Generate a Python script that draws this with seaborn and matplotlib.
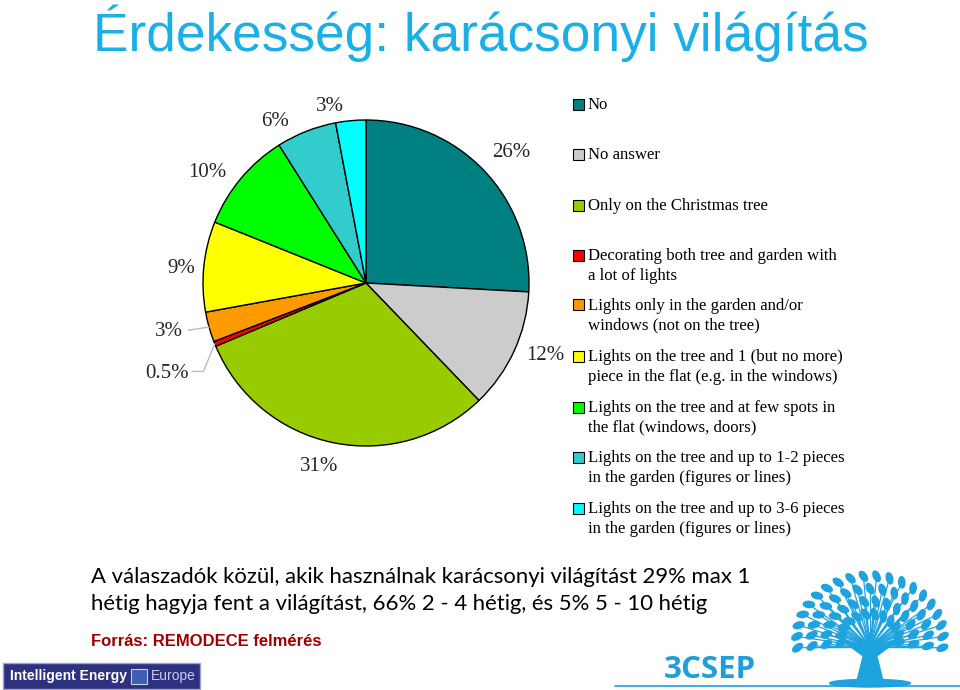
import numpy as np
import matplotlib
matplotlib.use("Agg")
import matplotlib.pyplot as plt
from matplotlib.patches import Rectangle, Ellipse, Polygon
import seaborn as sns

# ---------------- data ----------------
categories = [
    "No",
    "No answer",
    "Only on the Christmas tree",
    "Decorating both tree and garden with\na lot of lights",
    "Lights only in the garden and/or\nwindows (not on the tree)",
    "Lights on the tree and 1 (but no more)\npiece in the flat (e.g. in the windows)",
    "Lights on the tree and at few spots in\nthe flat (windows, doors)",
    "Lights on the tree and up to 1-2 pieces\nin the garden (figures or lines)",
    "Lights on the tree and up to 3-6 pieces\nin the garden (figures or lines)",
]
values = [26, 12, 31, 0.5, 3, 9, 10, 6, 3]
pct_labels = ["26%", "12%", "31%", "0.5%", "3%", "9%", "10%", "6%", "3%"]
colors = ["#008080", "#CCCCCC", "#99CC00", "#FF0000", "#FF9900",
          "#FFFF00", "#00FF00", "#33CCCC", "#00FFFF"]

title = "Érdekesség: karácsonyi világítás"
note_lines = ["A válaszadók közül, akik használnak karácsonyi világítást 29% max 1",
              "hétig hagyja fent a világítást, 66% 2 - 4 hétig, és 5% 5 - 10 hétig"]
source = "Forrás: REMODECE felmérés"

# ---------------- figure ----------------
sns.set_theme(style="white")
plt.rcParams['font.family'] = ['Liberation Serif', 'DejaVu Sans']

W, H = 960, 690
fig = plt.figure(figsize=(W / 100, H / 100), dpi=100)
fig.patch.set_facecolor("white")

def fx(x):
    return x / W

def fy(y):
    return 1 - y / H

# pie axes: centre (366,283), radius 163 px
cx, cy, R = 366, 283, 163
ax = fig.add_axes([fx(cx - R), fy(cy + R), 2 * R / W, 2 * R / H])
palette = sns.color_palette(colors)
wedges, texts = ax.pie(values, colors=palette, startangle=90, counterclock=False,
                       labels=pct_labels, labeldistance=1.1,
                       wedgeprops=dict(edgecolor="black", linewidth=1.0),
                       textprops=dict(fontsize=15, family=['Liberation Serif']))
ax.set_xlim(-1, 1)
ax.set_ylim(-1, 1)
ax.set_aspect("equal")
ax.axis("off")

dist = [1.11, 1.08, 1.14, 1.22, 1.16, 1.05, 1.09, 1.10, 1.09]
offs = [2.5, 0.3, 3.0, 5.0, -0.7, 1.0, 1.4, 4.0, 1.6]
for i, (w, t) in enumerate(zip(wedges, texts)):
    mid = np.deg2rad((w.theta1 + w.theta2) / 2 + offs[i])
    t.set_position((dist[i] * np.cos(mid), dist[i] * np.sin(mid)))
    t.set_clip_on(False)

# leader lines for the small slices
lc = "#BBBBBB"
w3 = wedges[4]
m3 = np.deg2rad((w3.theta1 + w3.theta2) / 2)
p0 = (np.cos(m3), np.sin(m3))
lx, ly = texts[4].get_position()
ax.plot([p0[0], lx + 0.03], [p0[1], ly + 0.01], color=lc, lw=1, clip_on=False)
w05 = wedges[3]
m05 = np.deg2rad((w05.theta1 + w05.theta2) / 2)
q0 = (np.cos(m05), np.sin(m05))
lx, ly = texts[3].get_position()
ax.plot([q0[0], lx + 0.09, lx + 0.02], [q0[1], ly + 0.01, ly + 0.01],
        color=lc, lw=1, clip_on=False)

# title
fig.text(fx(93), fy(33), title, fontsize=38.3, color="#1AAFE6",
         family=['Liberation Sans'], va="center", ha="left")

# legend (drawn manually)
row_y = [104, 154, 205, 255, 305, 356, 407, 457, 508]
for c, lab, yy in zip(colors, categories, row_y):
    fig.patches.append(Rectangle((fx(573), fy(yy + 5.5)), 11 / W, 11 / H,
                                 transform=fig.transFigure, facecolor=c,
                                 edgecolor="black", linewidth=0.8))
    fig.text(fx(588), fy(yy - 7), lab, fontsize=12.1, va="top", ha="left",
             linespacing=1.3, color="black", family=['Liberation Serif'])

# note text
for i, line in enumerate(note_lines):
    fig.text(fx(91), fy(577 + 27 * i), line, fontsize=15.9, va="center", ha="left",
             family=['Lato', 'DejaVu Sans'], color="black")
fig.text(fx(91), fy(641), source, fontsize=12, fontweight="bold", color="#A00000",
         family=['Liberation Sans'], va="center", ha="left")

# Intelligent Energy Europe box
fig.patches.append(Rectangle((fx(3), fy(689)), 197 / W, 26 / H, transform=fig.transFigure,
                             facecolor="#2E3180", edgecolor="#9FA3D0", linewidth=1))
fig.text(fx(10), fy(676), "Intelligent Energy", fontsize=10, fontweight="bold",
         color="white", family=['Liberation Sans'], va="center", ha="left")
fig.patches.append(Rectangle((fx(131), fy(684)), 16 / W, 15 / H, transform=fig.transFigure,
                             facecolor="#3D5FB0", edgecolor="#C8CCEE", linewidth=0.8))
fig.text(fx(151), fy(676), "Europe", fontsize=10, color="#C8CCEE",
         family=['Liberation Sans'], va="center", ha="left")

# 3CSEP
fig.text(fx(664), fy(670), "3CSEP", fontsize=22.5, fontweight="bold", color="#1E9FDB",
         family=['Open Sans', 'Liberation Sans'], va="center", ha="left")
fig.lines.append(plt.Line2D([fx(615), fx(960)], [fy(686), fy(686)],
                            transform=fig.transFigure, color="#1E9FDB", lw=1.2))

# tree logo
tax = fig.add_axes([fx(785), fy(690), 170 / W, 125 / H])
tax.set_xlim(-1, 1)
tax.set_ylim(0, 1.47)
tax.axis("off")
tc = "#1EA3DE"
tax.add_patch(Polygon([(-0.16, 0.08), (0.16, 0.08), (0.08, 0.4), (0.35, 0.6),
                       (0.05, 0.5), (0.0, 0.68), (-0.05, 0.5), (-0.35, 0.6), (-0.08, 0.4)],
                      closed=True, facecolor=tc, edgecolor=tc))
tax.add_patch(Ellipse((0, 0.08), 0.95, 0.09, facecolor=tc, edgecolor=tc))
fcx, fcy = 0.0, 0.6
for r in [0.4, 0.6, 0.8, 1.0]:
    n = int(7 + r * 13)
    for a in np.linspace(-8, 188, n):
        ar = np.deg2rad(a)
        x = fcx + r * np.cos(ar) * 0.86
        y = fcy + r * np.sin(ar) * 0.74
        tax.plot([0, x], [0.5, y], color=tc, lw=0.9)
        tax.add_patch(Ellipse((x, y), 0.15, 0.09, angle=a + 30, facecolor=tc,
                              edgecolor="none"))

fig.savefig("out.png", dpi=100, facecolor="white")
